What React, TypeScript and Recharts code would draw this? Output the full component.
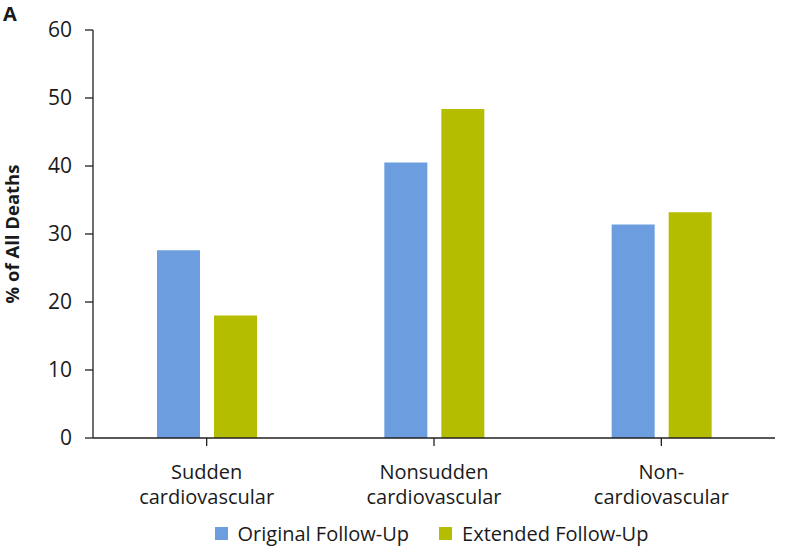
import React from 'react';
import { BarChart, Bar, XAxis, YAxis, Legend, Label } from 'recharts';

const categories = ['Sudden cardiovascular', 'Nonsudden cardiovascular', 'Non-cardiovascular'];
const categoryLines = [
  ['Sudden', 'cardiovascular'],
  ['Nonsudden', 'cardiovascular'],
  ['Non-', 'cardiovascular'],
];
const originalFollowUp = [27.6, 40.5, 31.4];
const extendedFollowUp = [18.0, 48.4, 33.2];
const yTicks = [0, 10, 20, 30, 40, 50, 60];
const seriesKeys = ['original', 'extended'];
const seriesNames = { original: 'Original Follow-Up', extended: 'Extended Follow-Up' };
const yAxisTitle = '% of All Deaths';
const panelLetter = 'A';

const data = categories.map((c, i) => ({
  category: c,
  original: originalFollowUp[i],
  extended: extendedFollowUp[i],
}));

const FONT = '"Open Sans", "Noto Sans", sans-serif';
const TEXT = '#1a1a1a';
const AXIS = '#231f20';

const CategoryTick = (props: any) => {
  const { x, y, payload } = props;
  const lines = categoryLines[payload.index] || [String(payload.value)];
  return (
    <text x={x} y={y} textAnchor="middle" fill={TEXT} fontFamily={FONT} fontSize={20}>
      {lines.map((l, i) => (
        <tspan key={i} x={x} dy={i === 0 ? 31 : 25}>
          {l}
        </tspan>
      ))}
    </text>
  );
};

const LegendContent = (props: any) => {
  const payload = [...(props.payload || [])].sort(
    (a: any, b: any) => seriesKeys.indexOf(a.dataKey) - seriesKeys.indexOf(b.dataKey)
  );
  return (
    <div
      style={{
        height: 34,
        width: 803,
        display: 'flex',
        justifyContent: 'center',
        alignItems: 'center',
        paddingLeft: 60,
        boxSizing: 'border-box',
        fontFamily: FONT,
        fontSize: 20,
        color: TEXT,
      }}
    >
      {payload.map((p: any, i: number) => (
        <span key={i} style={{ display: 'flex', alignItems: 'center', marginRight: i === 0 ? 30 : 0 }}>
          <span style={{ width: 13, height: 13, background: p.color, marginRight: 10, display: 'inline-block' }} />
          {p.value}
        </span>
      ))}
    </div>
  );
};

const YTitle = (props: any) => {
  const vb = props.viewBox || { x: 0, y: 0, height: 0 };
  const cy = vb.y + vb.height / 2;
  return (
    <text
      x={19}
      y={cy}
      transform={`rotate(-90, 19, ${cy})`}
      textAnchor="middle"
      fontFamily={FONT}
      fontWeight={700}
      fontSize={18.5}
      fill={TEXT}
    >
      {yAxisTitle}
    </text>
  );
};

export default function App() {
  return (
    <div style={{ position: 'absolute', left: 0, top: 0, width: 803, height: 550, background: '#fff' }}>
      <div
        style={{
          position: 'absolute',
          left: 3,
          top: 1,
          lineHeight: '26px',
          fontFamily: FONT,
          fontWeight: 700,
          fontSize: 20,
          color: TEXT,
          zIndex: 2,
        }}
      >
        {panelLetter}
      </div>
      <BarChart
        width={803}
        height={550}
        data={data}
        margin={{ top: 30, right: 28, bottom: 0, left: 0 }}
        barSize={43}
        barGap={14}
      >
        <XAxis
          dataKey="category"
          tick={<CategoryTick />}
          tickSize={8}
          height={78}
          interval={0}
          axisLine={{ stroke: AXIS, strokeWidth: 1.3 }}
          tickLine={{ stroke: AXIS, strokeWidth: 1.3 }}
        />
        <YAxis
          width={93}
          domain={[0, 60]}
          ticks={yTicks}
          interval={0}
          tickSize={8}
          tickMargin={13}
          axisLine={{ stroke: AXIS, strokeWidth: 1.3 }}
          tickLine={{ stroke: AXIS, strokeWidth: 1.3 }}
          tick={{ fill: TEXT, fontFamily: FONT, fontSize: 21 }}
        >
          <Label content={<YTitle />} />
        </YAxis>
        <Legend verticalAlign="bottom" content={<LegendContent />} wrapperStyle={{ left: 0, width: 803 }} />
        <Bar dataKey="original" name={seriesNames.original} fill="#6b9ddf" isAnimationActive={false} />
        <Bar dataKey="extended" name={seriesNames.extended} fill="#b5bd00" isAnimationActive={false} />
      </BarChart>
    </div>
  );
}
